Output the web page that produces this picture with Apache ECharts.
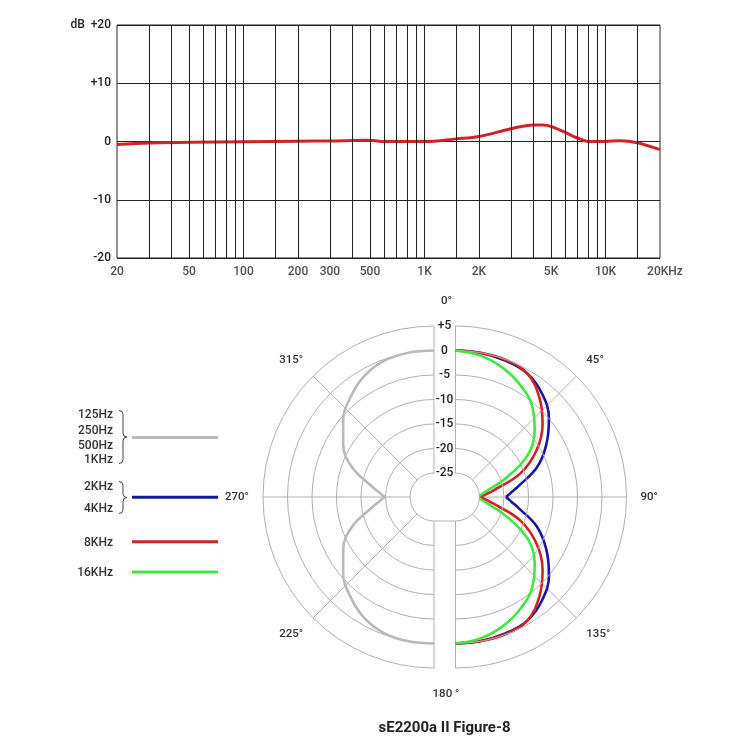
<!DOCTYPE html>
<html><head><meta charset="utf-8">
<script src="https://cdn.jsdelivr.net/npm/echarts@6/dist/echarts.min.js"></script>
<style>html,body{margin:0;padding:0;background:#fff}#c{width:750px;height:750px}</style>
</head><body><div id="c"></div>
<script>
// ---------- Frequency response (top chart) ----------
const respFreq = [20, 30, 50, 100, 200, 300, 500, 600, 1000, 1500, 2000, 3000, 4000, 4500, 5000, 6000, 7000, 8000, 9000, 10000, 12000, 15000, 20000];
const respDb   = [-0.5, -0.25, -0.15, -0.05, 0.05, 0.1, 0.2, 0, 0, 0.45, 0.85, 2.2, 2.85, 2.85, 2.6, 1.55, 0.6, 0, 0, 0, 0.15, -0.2, -1.4];
const gridFreqs = [30, 40, 50, 60, 70, 80, 90, 100, 150, 200, 300, 400, 500, 600, 700, 800, 900, 1000, 1500, 2000, 3000, 4000, 5000, 6000, 7000, 8000, 9000, 10000, 15000];
const xTickFreqs  = [20, 50, 100, 200, 300, 500, 1000, 2000, 5000, 10000, 20000];
const xTickLabels = ['20', '50', '100', '200', '300', '500', '1K', '2K', '5K', '10K', '20KHz'];
const yTicks = [-20, -10, 0, 10, 20];

// ---------- Polar pattern (bottom chart) ----------
const rightTopAngles    = [0, 10, 20, 30, 40, 50, 60, 70, 80, 85, 90];
const rightBottomAngles = [90, 95, 100, 110, 120, 130, 140, 150, 160, 170, 180];
const leftTopAngles     = [360, 350, 340, 330, 320, 310, 300, 290, 280, 275, 270];
const leftBottomAngles  = [270, 265, 260, 250, 240, 230, 220, 210, 200, 190, 180];

const grayTop     = [0, 0, -0.3, -1.4, -3.35, -5.7, -8.5, -12.1, -16.9, -18.6, -19.8];
const grayBottom  = [-19.8, -18.6, -16.9, -12.1, -8.5, -5.7, -3.35, -1.4, -0.3, 0, 0];
const blueTop     = [0, -0.05, -0.25, -0.7, -2.4, -5.0, -8.5, -12.2, -16.8, -18.4, -19.6];
const blueBottom  = [-19.6, -18.4, -16.8, -12.2, -8.5, -5.0, -2.4, -0.7, -0.25, -0.05, 0];
const redTop      = [0, -0.05, -0.1, -0.7, -3.3, -6.7, -10.8, -15.8, -22.0, -23.7, -24.8];
const redBottom   = [-24.8, -23.7, -22.0, -15.8, -10.8, -6.7, -3.3, -0.7, -0.1, -0.05, 0];
const greenTop    = [0, -0.6, -1.8, -3.5, -5.6, -8.8, -12.9, -19.2, -23.7, -24.7, -25.4];
const greenBottom = [-25.4, -24.7, -23.7, -19.2, -12.9, -8.8, -5.6, -3.5, -1.8, -0.6, 0];

const legendGroups = [
  ['125Hz', '250Hz', '500Hz', '1KHz'],
  ['2KHz', '4KHz'],
  ['8KHz'],
  ['16KHz']
];
const title = 'sE2200a II Figure-8';

// ---------- styles ----------
const FONT = 'Roboto';
const DARK = '#222';
const PGRID = '#b0b0b0';
const C_GRAY = '#b9b9b9', C_BLUE = '#1616a6', C_RED = '#d42222', C_GREEN = '#3ee83e';

const chart = echarts.init(document.getElementById('c'), null, {renderer: 'canvas'});

function pSeries(idx, angles, vals, color, z) {
  return {
    type: 'line', coordinateSystem: 'polar', polarIndex: idx,
    data: vals.map((v, i) => [v, angles[i]]),
    smooth: 0.4, showSymbol: false, symbol: 'none', clip: false, silent: true,
    lineStyle: {color: color, width: 2.6}, z: z
  };
}

const option = {
  backgroundColor: '#fff',
  animation: false,
  textStyle: {fontFamily: FONT},
  grid: {left: 117, top: 25, width: 543, height: 233, show: true, borderColor: DARK, borderWidth: 1, backgroundColor: 'transparent'},
  xAxis: {
    type: 'log', logBase: 10, min: 20, max: 20000,
    axisLine: {show: false}, axisTick: {show: false}, axisLabel: {show: false}, splitLine: {show: false}
  },
  yAxis: {
    type: 'value', min: -20, max: 20, interval: 10,
    axisLine: {show: false}, axisTick: {show: false},
    axisLabel: {
      color: DARK, fontSize: 12, fontWeight: 500, margin: 6,
      formatter: v => v === 20 ? 'dB  +20' : (v > 0 ? '+' + v : '' + v)
    },
    splitLine: {lineStyle: {color: DARK, width: 1}}
  },
  polar: [
    {center: [434, 497], radius: [24, 171]},
    {center: [455.5, 497], radius: [24, 171]}
  ],
  angleAxis: [
    {
      polarIndex: 0, type: 'value', min: 180, max: 360, interval: 45,
      startAngle: 270, endAngle: 90, clockwise: true,
      axisLine: {show: false}, axisTick: {show: false},
      axisLabel: {margin: 14, color: '#333', fontSize: 11.5, fontWeight: 500,
        formatter: v => (v === 180 || v === 360) ? '' : v + '°'},
      splitLine: {show: true, lineStyle: {color: PGRID, width: 1}}
    },
    {
      polarIndex: 1, type: 'value', min: 0, max: 180, interval: 45,
      startAngle: 90, endAngle: -90, clockwise: true,
      axisLine: {show: false}, axisTick: {show: false},
      axisLabel: {margin: 14, color: '#333', fontSize: 11.5, fontWeight: 500,
        formatter: v => (v === 0 || v === 180) ? '' : v + '°'},
      splitLine: {show: true, lineStyle: {color: PGRID, width: 1}}
    }
  ],
  radiusAxis: [
    {
      polarIndex: 0, type: 'value', min: -25, max: 5, interval: 5,
      axisLine: {show: false}, axisTick: {show: false}, axisLabel: {show: false},
      splitLine: {show: true, lineStyle: {color: PGRID, width: 1}}
    },
    {
      polarIndex: 1, type: 'value', min: -25, max: 5, interval: 5,
      axisLine: {show: false}, axisTick: {show: false},
      axisLabel: {show: true, align: 'center', margin: 11, color: DARK, fontSize: 12, fontWeight: 500,
        backgroundColor: '#fff', padding: [0, 1],
        formatter: v => v > 0 ? '+' + v : '' + v},
      splitLine: {show: true, lineStyle: {color: PGRID, width: 1}},
      z: 5
    }
  ],
  series: [
    {
      type: 'scatter', xAxisIndex: 0, yAxisIndex: 0, silent: true, z: 1,
      symbolSize: 1, itemStyle: {color: 'rgba(0,0,0,0)'},
      data: xTickFreqs.map((f, i) => ({
        value: [f, yTicks[0]],
        label: {formatter: xTickLabels[i], offset: xTickLabels[i] === '20KHz' ? [5, 0] : [0, 0]}
      })),
      label: {show: true, position: 'bottom', distance: 7, color: DARK, fontSize: 12, fontWeight: 500},
      markLine: {
        silent: true, symbol: ['none', 'none'], label: {show: false},
        lineStyle: {color: DARK, width: 1, type: 'solid'},
        data: gridFreqs.map(f => ({xAxis: f}))
      }
    },
    {
      type: 'line', xAxisIndex: 0, yAxisIndex: 0, silent: true, z: 4,
      data: respFreq.map((f, i) => [f, respDb[i]]),
      smooth: 0.35, showSymbol: false, symbol: 'none',
      lineStyle: {color: C_RED, width: 3}
    },
    pSeries(0, leftTopAngles, grayTop, C_GRAY, 3),
    pSeries(0, leftBottomAngles, grayBottom, C_GRAY, 3),
    pSeries(1, rightTopAngles, blueTop, C_BLUE, 3),
    pSeries(1, rightBottomAngles, blueBottom, C_BLUE, 3),
    pSeries(1, rightTopAngles, redTop, C_RED, 4),
    pSeries(1, rightBottomAngles, redBottom, C_RED, 4),
    pSeries(1, rightTopAngles, greenTop, C_GREEN, 5),
    pSeries(1, rightBottomAngles, greenBottom, C_GREEN, 5)
  ]
};
chart.setOption(option);

// ---------- decorations (legend, titles, inner-ring joins) ----------
const els = [];
const txt = (x, y, s, extra) => els.push({
  type: 'text', x: x, y: y, silent: true,
  style: Object.assign({text: s, fontFamily: FONT, fontSize: 12, fontWeight: 500, fill: '#333', align: 'right', verticalAlign: 'middle'}, extra || {})
});
const seg = (x1, y1, x2, y2, stroke, w) => els.push({type: 'line', silent: true, shape: {x1, y1, x2, y2}, style: {stroke, lineWidth: w}});
const qcurve = (x1, y1, cx, cy, x2, y2) => els.push({type: 'bezierCurve', silent: true,
  shape: {x1, y1, x2, y2, cpx1: cx, cpy1: cy}, style: {stroke: '#444', lineWidth: 1, fill: null}});
const legendLayout = [
  {ys: [415, 431, 445.5, 460], lineY: 437.5, color: C_GRAY, brace: [410.5, 463.5]},
  {ys: [486.5, 508.5], lineY: 497.3, color: C_BLUE, brace: [481.5, 513.5]},
  {ys: [542.5], lineY: 541.7, color: C_RED},
  {ys: [572.5], lineY: 572, color: C_GREEN}
];
legendGroups.forEach((labels, g) => {
  const L = legendLayout[g];
  labels.forEach((s, i) => txt(113, L.ys[i], s));
  seg(132, L.lineY, 218, L.lineY, L.color, 3);
  if (L.brace) {
    const t = L.brace[0], b = L.brace[1], m = (t + b) / 2;
    const x0 = 119, x1 = 123, x2 = 127;
    qcurve(x0, t, x1, t, x1, t + 4);
    seg(x1, t + 4, x1, m - 4, '#444', 1);
    qcurve(x1, m - 4, x1, m, x2, m);
    qcurve(x2, m, x1, m, x1, m + 4);
    seg(x1, m + 4, x1, b - 4, '#444', 1);
    qcurve(x1, b - 4, x1, b, x0, b);
  }
});
txt(446.5, 301, '0°', {align: 'center', fontSize: 11.5});
txt(446, 694, '180 °', {align: 'center', fontSize: 11.5});
txt(444.5, 728, title, {align: 'center', fontSize: 15, fontWeight: 'bold', fill: '#222'});

// join the two inner semicircles (-25 ring) into one stadium outline
const pTopL = chart.convertToPixel({polarIndex: 0}, [-25, 360]);
const pTopR = chart.convertToPixel({polarIndex: 1}, [-25, 0]);
const pBotL = chart.convertToPixel({polarIndex: 0}, [-25, 180]);
const pBotR = chart.convertToPixel({polarIndex: 1}, [-25, 180]);
if (pTopL && pTopR && pBotL && pBotR) {
  seg(pTopL[0], pTopL[1], pTopR[0], pTopR[1], PGRID, 1);
  seg(pBotL[0], pBotL[1], pBotR[0], pBotR[1], PGRID, 1);
}
chart.setOption({graphic: {elements: els}});
</script>
</body></html>
